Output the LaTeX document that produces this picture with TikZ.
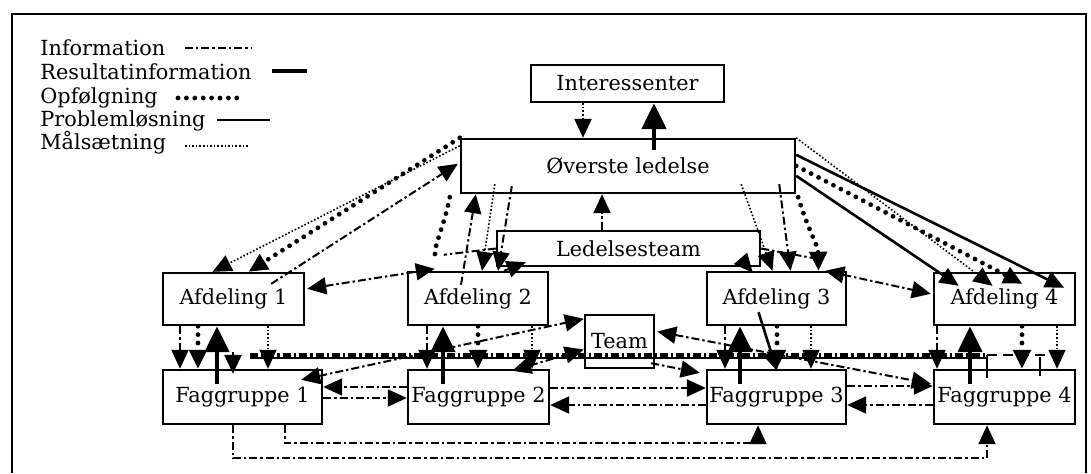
\documentclass[tikz,border=0pt]{standalone}
\usepackage{fontspec}
\setmainfont{DejaVu Serif}
\usetikzlibrary{arrows.meta,calc}
\begin{document}
\begin{tikzpicture}[x=0.5pt,y=-0.5pt,
  box/.style={draw, line width=1.2pt, inner sep=0pt, font=\fontsize{10.4}{12}\selectfont},
  tip/.style={-{Triangle[length=9.5pt,width=8.5pt]}},
  tips/.style={{Triangle[length=9.5pt,width=8.5pt]}-{Triangle[length=9.5pt,width=8.5pt]}},
  restip/.style={-{Triangle[length=13pt,width=12pt]}},
  info/.style={line width=1pt, dash pattern=on 4pt off 1.5pt on 1.2pt off 1.5pt},
  res/.style={line width=2.4pt},
  opf/.style={line width=2.4pt, line cap=round, dash pattern=on 0pt off 4.2pt},
  prob/.style={line width=1.3pt},
  mal/.style={line width=0.8pt, dash pattern=on 0.8pt off 1pt},
  lg/.style={anchor=base west, inner sep=0pt, font=\fontsize{10.4}{12}\selectfont}]

\useasboundingbox (0,0) rectangle (1091,473);
\fill[white] (0,0) rectangle (1091,473);
\draw[line width=1.2pt] (12,473) -- (12,14) -- (1086,14) -- (1086,473);

% legend
\node[lg] (lgi) at (40,55) {Information};
\node[lg] (lgr) at (40,79) {Resultatinformation};
\node[lg] (lgo) at (40,103) {Opfølgning};
\node[lg] (lgp) at (40,126) {Problemløsning};
\node[lg] (lgm) at (40,149) {Målsætning};
\draw[info] (185,48) -- (252,48);
\draw[res] (272,71) -- (307,71);
\draw[opf] (178,98) -- (245,98);
\draw[prob] (217,120) -- (270,120);
\draw[mal] (185,146) -- (248,146);

% boxes
\node[box, minimum width=96.5pt, minimum height=18.5pt] (int) at (627.5,83.5) {Interessenter};
\node[box, minimum width=167pt, minimum height=27pt] (top) at (628,166) {Øverste ledelse};
\node[box, minimum width=131.5pt, minimum height=17.5pt] (ldt) at (628.5,248.5) {Ledelsesteam};
\node[box, minimum width=70.5pt, minimum height=26pt] (a1) at (233.5,299) {Afdeling 1};
\node[box, minimum width=70pt, minimum height=26.5pt] (a2) at (478,298.5) {Afdeling 2};
\node[box, minimum width=69.5pt, minimum height=26.5pt] (a3) at (776.5,298.5) {Afdeling 3};
\node[box, minimum width=70.5pt, minimum height=26pt] (a4) at (1004.5,299) {Afdeling 4};
\node[box, minimum width=34.5pt, minimum height=26.5pt] (team) at (619.5,341.5) {Team};
\node[box, minimum width=79.5pt, minimum height=27pt] (f1) at (242.5,397) {Faggruppe 1};
\node[box, minimum width=70.5pt, minimum height=27pt] (f2) at (478.5,397) {Faggruppe 2};
\node[box, minimum width=69.5pt, minimum height=27pt] (f3) at (776.5,397) {Faggruppe 3};
\node[box, minimum width=70.5pt, minimum height=27pt] (f4) at (1004.5,397) {Faggruppe 4};

% Interessenter <-> Overste
\draw[mal, line width=1.2pt, tip] (583,0 |- int.south) -- (583,0 |- top.north);
\draw[res, restip] ($(654,0 |- top.north)+(0,12)$) -- (654,0 |- int.south);

% Ledelsesteam -> Overste
\draw[info, tip] (602,0 |- ldt.north) -- (602,0 |- top.south);

% Overste <-> Afdeling 1
\draw[opf, tip] (top.north west) -- ($(a1.north)+(15,0)$);
\draw[mal, tip] ($(top.north west)+(0,8)$) -- ($(a1.north)+(-21,0)$);
\draw[info, tip] ($(a1.north east)+(-34,12)$) -- ($(top.north west)+(-2,26)$);
\draw[info, tips] ($(a1.north east)+(2,17)$) -- ($(a2.north west)+(28,-2)$);
\draw[info] (ldt.west) -- ($(a2.north west)+(37,-16)$);

% Overste <-> Afdeling 2
\draw[opf] ($(top.south west)+(-10,3)$) .. controls (442,235) and (430,252) .. ($(a2.north west)+(30,-10)$);
\draw[info, tip] ($(a2.north)+(-17,14)$) -- ($(top.south west)+(16,0)$);
\draw[mal, tip] ($(top.south west)+(35,-10)$) -- ($(a2.north)+(4,0)$);
\draw[info, tip] ($(top.south west)+(52,-8)$) -- ($(a2.north)+(20,0)$);
\draw[info, tip] ($(a2.north)+(26,0)$) -- ($(ldt.south west)+(30,-5)$);

% Overste <-> Afdeling 3
\draw[info, tip] ($(ldt.south east)+(-20,-8)$) -- ($(a3.north west)+(47,2)$);
\draw[mal, tip] ($(top.south east)+(-55,-10)$) -- ($(a3.north)+(-4,0)$);
\draw[info, tip] ($(top.south east)+(-17,-10)$) -- ($(a3.north)+(14,0)$);
\draw[opf, tip] ($(top.south east)+(2,3)$) .. controls (808,230) and (818,245) .. ($(a3.north)+(42,0)$);
\draw[info, tips] ($(a3.north east)+(-22,0)$) -- ($(a4.north west)+(-2,22)$);
\draw[info] (ldt.east) -- ($(a3.north east)+(-30,-12)$);

% Overste <-> Afdeling 4
\draw[mal, tip] (top.north east) -- ($(a4.north)+(-12,14)$);
\draw[prob, tip] ($(top.north east)+(0,17)$) -- ($(a4.north east)+(-12,16)$);
\draw[opf, tip] ($(top.north east)+(0,28)$) -- ($(a4.north)+(18,12)$);
\draw[prob, tip] ($(top.north east)+(0,38)$) -- ($(a4.north west)+(26,14)$);

% long horizontal line
\draw[line width=0.9pt] (250,358) -- (987,358);
\draw[info, line width=1.6pt] (250,355) -- (987,355);
\draw[line width=1.1pt, dash pattern=on 5pt off 3pt] (987,355) -- (1058,355);
\draw[line width=1.1pt] (987,355) -- (987,378);
\draw[line width=1.1pt] (1040,357) -- (1040,376);
\draw[prob, tip] (233,352) -- ($(233,0 |- f1.north)+(0,5)$);

% Afdeling 1 / Faggruppe 1
\draw[info, tip] (180,0 |- a1.south) -- (180,0 |- f1.north);
\draw[opf, tip] (198,0 |- a1.south) -- (198,0 |- f1.north);
\draw[res, restip] ($(217,0 |- f1.north)+(0,15)$) -- (217,0 |- a1.south);
\draw[mal, tip] (268,0 |- a1.south) -- (268,0 |- f1.north);

% Afdeling 2 / Faggruppe 2
\draw[info, tip] (427,0 |- a2.south) -- (427,0 |- f2.north);
\draw[res, restip] ($(443,0 |- f2.north)+(0,15)$) -- (443,0 |- a2.south);
\draw[opf, tip] (478,0 |- a2.south) -- (478,0 |- f2.north);
\draw[mal, tip] (532,0 |- a2.south) -- (532,0 |- f2.north);

% Afdeling 3 / Faggruppe 3
\draw[info, tip] (725,0 |- a3.south) -- (725,0 |- f3.north);
\draw[res, restip] ($(740,0 |- f3.north)+(0,15)$) -- (740,0 |- a3.south);
\draw[opf, tip] (777,0 |- a3.south) -- (777,0 |- f3.north);
\draw[prob, tip] ($(a3.south)+(-18,-14)$) -- ($(777,0 |- f3.north)+(0,2)$);
\draw[mal, tip] (811,0 |- a3.south) -- (811,0 |- f3.north);

% Afdeling 4 / Faggruppe 4
\draw[info, tip] (937,0 |- a4.south) -- (937,0 |- f4.north);
\draw[res, restip] ($(970,0 |- f4.north)+(0,15)$) -- (970,0 |- a4.south);
\draw[opf, tip] (1022,0 |- a4.south) -- (1022,0 |- f4.north);
\draw[mal, tip] (1057,0 |- a4.south) -- (1057,0 |- f4.north);

% Team
\draw[info, tips] ($(f1.north east)+(-22,11)$) -- ($(team.north west)+(0,5)$);
\draw[info, tips] ($(f2.north east)+(-38,2)$) -- ($(team.west)+(0,8)$);
\draw[info, tips] ($(team.east)+(2,-10)$) -- ($(f4.north west)+(-2,15)$);
\draw[info, tip] ($(team.south east)+(-4,-6)$) -- ($(f3.north west)+(-6,4)$);

% Faggrupper horizontal
\draw[info, tip] ($(f2.west)+(0,-10)$) -- ($(f1.east)+(0,-10)$);
\draw[info, tip] ($(f1.east)+(0,1)$) -- ($(f2.west)+(0,1)$);
\draw[info, tip] ($(f2.east)+(0,-9)$) -- ($(f3.west)+(0,-9)$);
\draw[info, tip] ($(f3.west)+(0,8)$) -- ($(f2.east)+(0,8)$);
\draw[info, tip] ($(f3.east)+(0,-11)$) -- ($(f4.west)+(0,-11)$);
\draw[info, tip] ($(f4.west)+(0,8)$) -- ($(f3.east)+(0,8)$);

% bottom lines
\draw[info, tip] (233,0 |- f1.south) -- ++(0,33) -| (987,0 |- f4.south);
\draw[info, tip] (285,0 |- f1.south) -- ++(0,18) -| (758,0 |- f3.south);
\end{tikzpicture}
\end{document}
